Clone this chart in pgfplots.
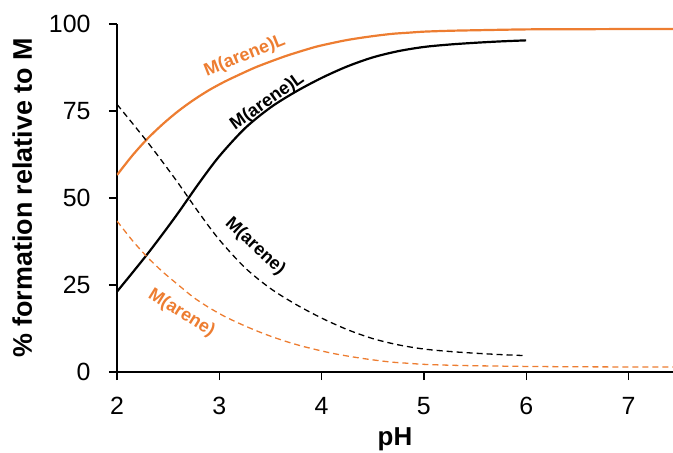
\documentclass[border=0pt]{standalone}
\usepackage{pgfplots}
\pgfplotsset{compat=1.18}
\usepackage{fontspec}
\setmainfont{Liberation Sans}
\definecolor{oran}{RGB}{237,125,49}
\begin{document}
\begin{tikzpicture}
\begin{axis}[name=ax,
  scale only axis, width=556bp, height=348bp,
  xmin=2, xmax=7.435, ymin=0, ymax=100,
  axis lines=left, axis line style={-, line width=1.2bp},
  xtick={2,3,4,5,6,7}, ytick={0,25,50,75,100},
  tick align=outside, major tick length=8bp,
  tick style={line width=1.2bp, black},
  clip=true,
  /pgf/number format/assume math mode=true,
  ticklabel style={font=\fontsize{25}{29}\selectfont},
  xticklabel style={yshift=-14bp},
  yticklabel style={xshift=-15bp},
  xlabel={\bfseries pH}, ylabel={\bfseries \% formation relative to M},
  xlabel style={font=\fontsize{26}{30}\selectfont, yshift=-6bp},
  ylabel style={font=\fontsize{27}{31}\selectfont, yshift=10bp},
]
\addplot[oran, line width=2.2bp, smooth] coordinates {
(2.00,56.6)(2.15,62.2)(2.30,67.1)(2.45,71.3)(2.60,75.0)(2.75,78.2)(2.90,81.0)(3.05,83.4)(3.20,85.5)(3.35,87.5)(3.50,89.2)(3.65,90.8)(3.80,92.2)(3.95,93.5)(4.10,94.5)(4.25,95.4)(4.40,96.1)(4.55,96.7)(4.70,97.2)(4.85,97.5)(5.00,97.8)(5.25,98.05)(5.50,98.2)(6.00,98.45)(6.50,98.5)(7.00,98.55)(7.435,98.55)};
\addplot[black, line width=2.2bp, smooth] coordinates {
(2.00,23.1)(2.15,28.5)(2.30,34.0)(2.45,39.8)(2.60,45.8)(2.80,54.2)(3.00,62.0)(3.25,70.0)(3.50,76.0)(3.75,80.6)(4.00,84.5)(4.25,87.8)(4.50,90.4)(4.75,92.2)(5.00,93.4)(5.25,94.1)(5.50,94.6)(5.75,95.0)(6.00,95.3)};
\addplot[black, line width=1.3bp, dash pattern=on 6bp off 4bp, smooth] coordinates {
(2.00,76.9)(2.15,71.5)(2.30,66.0)(2.45,60.2)(2.60,54.2)(2.80,45.8)(3.00,38.0)(3.25,30.0)(3.50,24.0)(3.75,19.4)(4.00,15.5)(4.25,12.2)(4.50,9.6)(4.75,7.8)(5.00,6.6)(5.25,5.9)(5.50,5.4)(5.75,5.0)(6.00,4.7)};
\addplot[oran, line width=1.3bp, dash pattern=on 6bp off 4bp, smooth] coordinates {
(2.00,43.4)(2.15,37.8)(2.30,32.9)(2.45,28.7)(2.60,25.0)(2.75,21.4)(2.90,18.5)(3.05,16.0)(3.20,13.9)(3.35,12.0)(3.50,10.3)(3.65,8.8)(3.80,7.5)(3.95,6.4)(4.10,5.4)(4.25,4.6)(4.40,3.9)(4.55,3.3)(4.70,2.8)(4.85,2.5)(5.00,2.2)(5.25,1.95)(5.50,1.8)(6.00,1.6)(6.50,1.5)(7.00,1.45)(7.435,1.45)};
\node[oran, rotate=21.8, font=\fontsize{18}{20}\selectfont\bfseries] at (axis cs:3.25,90.8) {M(arene)L};
\node[black, rotate=35.5, font=\fontsize{18}{20}\selectfont\bfseries] at (axis cs:3.47,77.6) {M(arene)L};
\node[black, rotate=-43, font=\fontsize{18}{20}\selectfont\bfseries] at (axis cs:3.35,36.0) {M(arene)};
\node[oran, rotate=-32, font=\fontsize{18}{20}\selectfont\bfseries] at (axis cs:2.63,16.9) {M(arene)};
\end{axis}
\pgfresetboundingbox
\path ([xshift=-117bp,yshift=-81bp]ax.south west) rectangle ([yshift=24bp]ax.north east);
\end{tikzpicture}
\end{document}
